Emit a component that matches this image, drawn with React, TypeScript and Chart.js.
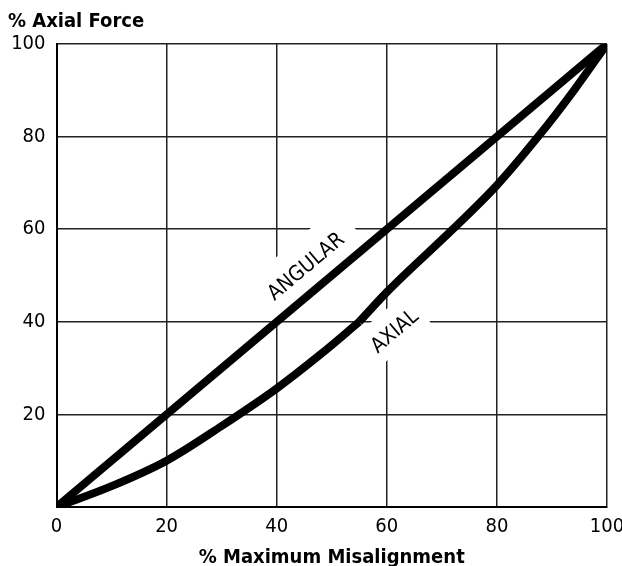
import React, { useEffect, useRef } from 'react';
import { Chart, registerables } from 'chart.js';

Chart.register(...registerables);

// ---- data ----
const xTickValues = [0, 20, 40, 60, 80, 100];
const yTickValues = [0, 20, 40, 60, 80, 100];
const angularX = [0, 100];
const angularY = [0, 100];
const axialLowerX = [0, 10, 20, 30, 40, 48, 55];
const axialLowerY = [0, 4.5, 10, 17.5, 25.6, 33, 40];
const axialUpperX = [55, 60, 72, 80, 87.5, 94, 100];
const axialUpperY = [40, 46.4, 60, 69.5, 80, 90, 100];
const curveLabels = ['ANGULAR', 'AXIAL'];
const curveLabelX = [45.3, 61.4];
const curveLabelY = [52, 38];
const yTitle = '% Axial Force';
const xTitle = '% Maximum Misalignment';

const FONT = "'DejaVu Sans Condensed', 'Liberation Sans', sans-serif";

const toPoints = (xs: number[], ys: number[]) => xs.map((x, i) => ({ x, y: ys[i] }));

// label box styles (width, height, normal offset)
const labelBoxes = [
  { w: 124, h: 50, dn: -1 },
  { w: 66, h: 40, dn: -2 },
];

const curveLabelPlugin = {
  id: 'curveLabels',
  beforeDatasetsDraw(chart: any) {
    const { ctx, scales } = chart;
    const xs = scales.x;
    const ys = scales.y;
    const ang = Math.atan2(
      ys.getPixelForValue(angularY[1]) - ys.getPixelForValue(angularY[0]),
      xs.getPixelForValue(angularX[1]) - xs.getPixelForValue(angularX[0])
    );
    ctx.save();
    curveLabels.forEach((t, i) => {
      const px = xs.getPixelForValue(curveLabelX[i]);
      const py = ys.getPixelForValue(curveLabelY[i]);
      const b = labelBoxes[i];
      ctx.save();
      ctx.translate(px, py);
      ctx.rotate(ang);
      ctx.fillStyle = '#ffffff';
      ctx.fillRect(-b.w / 2, -b.h / 2 + b.dn, b.w, b.h);
      ctx.fillStyle = '#000000';
      ctx.font = `21px ${FONT}`;
      ctx.textAlign = 'center';
      ctx.textBaseline = 'middle';
      ctx.fillText(t, 0, 1);
      ctx.restore();
    });
    ctx.restore();
  },
};

export default function App() {
  const ref = useRef<HTMLCanvasElement | null>(null);

  useEffect(() => {
    if (!ref.current) return;
    const lineStyle = {
      borderColor: '#000000',
      borderWidth: 8,
      pointRadius: 0,
      fill: false,
      cubicInterpolationMode: 'monotone' as const,
      clip: 0,
      borderCapStyle: 'butt' as const,
      borderJoinStyle: 'round' as const,
    };
    const chart = new Chart(ref.current, {
      type: 'line',
      data: {
        datasets: [
          { label: 'ANGULAR', data: toPoints(angularX, angularY), ...lineStyle },
          { label: 'AXIAL', data: toPoints(axialLowerX, axialLowerY), ...lineStyle },
          { label: 'AXIAL2', data: toPoints(axialUpperX, axialUpperY), ...lineStyle },
        ],
      },
      options: {
        animation: false,
        responsive: false,
        devicePixelRatio: 1,
        layout: { padding: { left: 8, right: 15, top: 0, bottom: 0 } },
        plugins: {
          legend: { display: false },
          tooltip: { enabled: false },
          title: {
            display: true,
            text: yTitle,
            align: 'start',
            color: '#000000',
            font: { family: FONT, size: 20, weight: 'bold', lineHeight: 1.2 },
            padding: { top: 10, bottom: 10 },
          },
        },
        scales: {
          x: {
            type: 'linear',
            min: 0,
            max: 100,
            afterBuildTicks: (s: any) => {
              s.ticks = xTickValues.map((v) => ({ value: v }));
            },
            afterFit: (s: any) => {
              s.height = 59;
              s.paddingLeft = 0;
              s.paddingRight = 0;
            },
            ticks: {
              color: '#000000',
              padding: 8,
              maxRotation: 0,
              font: { family: FONT, size: 20 },
            },
            grid: { color: '#222222', lineWidth: 1.5, drawTicks: false },
            border: { color: '#000000', width: 2 },
            title: {
              display: true,
              text: xTitle,
              color: '#000000',
              font: { family: FONT, size: 20, weight: 'bold', lineHeight: 1 },
              padding: { top: 0, bottom: -2 },
            },
          },
          y: {
            type: 'linear',
            min: 0,
            max: 100,
            afterBuildTicks: (s: any) => {
              s.ticks = yTickValues.map((v) => ({ value: v }));
            },
            afterFit: (s: any) => {
              s.width = 48.5;
              s.paddingTop = 0;
              s.paddingBottom = 0;
            },
            ticks: {
              color: '#000000',
              padding: 11,
              font: { family: FONT, size: 20 },
              callback: (v: any) => (v === 0 ? '' : String(v)),
            },
            grid: { color: '#222222', lineWidth: 1.5, drawTicks: false },
            border: { color: '#000000', width: 2 },
          },
        },
      },
      plugins: [curveLabelPlugin],
    });
    return () => chart.destroy();
  }, []);

  return (
    <div style={{ position: 'absolute', left: 0, top: 0, width: 622, height: 566, background: '#ffffff' }}>
      <canvas ref={ref} width={622} height={566} style={{ width: 622, height: 566, display: 'block' }} />
    </div>
  );
}
